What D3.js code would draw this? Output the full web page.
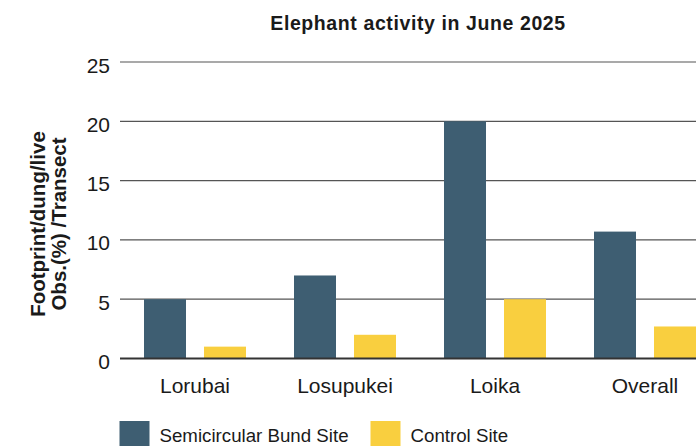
<!DOCTYPE html>
<html>
<head>
<meta charset="utf-8">
<script src="https://cdn.jsdelivr.net/npm/d3@7"></script>
<style>
  html, body { margin: 0; padding: 0; background: #fff; }
  svg { display: block; overflow: hidden; }
  text { font-family: "Liberation Sans", Arial, Helvetica, sans-serif; fill: #1a1a1a; }
</style>
</head>
<body>
<div id="chart"></div>
<script>
const categories = ["Lorubai", "Losupukei", "Loika", "Overall"];
const seriesNames = ["Semicircular Bund Site", "Control Site"];
const bundValues = [5, 7, 20, 10.7];
const controlValues = [1, 2, 5, 2.7];
const yTicks = [0, 5, 10, 15, 20, 25];
const colors = ["#3e5e72", "#f9cf3f"];
const title = "Elephant activity in June 2025";
const yTitleLines = ["Footprint/dung/live", "Obs.(%) /Transect"];

const W = 696, H = 446;
const svg = d3.select("#chart").append("svg").attr("width", W).attr("height", H);

const x0 = d3.scaleBand().domain(categories).range([120, 720]).paddingInner(0).paddingOuter(0);
const x1 = d3.scaleBand().domain(seriesNames).range([24, 126]).paddingInner(0.3).paddingOuter(0);
const y = d3.scaleLinear().domain([0, 25]).range([358.5, 62]);

// grid lines
svg.append("g").selectAll("line").data(yTicks.filter(d => d > 0)).join("line")
  .attr("x1", 120).attr("x2", W + 10)
  .attr("y1", d => y(d)).attr("y2", d => y(d))
  .attr("stroke", "#555").attr("stroke-width", 1.2);

// tick labels
svg.append("g").selectAll("text").data(yTicks).join("text")
  .attr("x", 110).attr("y", d => y(d) + 10.5)
  .attr("text-anchor", "end").attr("font-size", 21)
  .text(d => d);

// bars
const rows = categories.map((c, i) => ({ cat: c, vals: [bundValues[i], controlValues[i]] }));
const groups = svg.append("g").selectAll("g").data(rows).join("g")
  .attr("transform", d => `translate(${x0(d.cat)},0)`);
groups.selectAll("rect").data(d => d.vals.map((v, j) => ({ key: seriesNames[j], v, j }))).join("rect")
  .attr("x", d => x1(d.key)).attr("width", x1.bandwidth())
  .attr("y", d => y(d.v)).attr("height", d => y(0) - y(d.v))
  .attr("fill", d => colors[d.j]);

// baseline
svg.append("line").attr("x1", 120).attr("x2", W + 10)
  .attr("y1", y(0)).attr("y2", y(0))
  .attr("stroke", "#333").attr("stroke-width", 2);

// x labels
svg.append("g").selectAll("text").data(categories).join("text")
  .attr("x", d => x0(d) + x0.bandwidth() / 2).attr("y", 393)
  .attr("text-anchor", "middle").attr("font-size", 21)
  .text(d => d);

// title
svg.append("text").attr("x", 418).attr("y", 30)
  .attr("text-anchor", "middle").attr("font-size", 19.5).attr("font-weight", "bold")
  .attr("letter-spacing", 0.6)
  .text(title);

// y title
const yt = svg.append("text").attr("transform", "translate(45,224) rotate(-90)")
  .attr("text-anchor", "middle").attr("font-size", 20.5).attr("font-weight", "bold");
yTitleLines.forEach((t, i) => {
  yt.append("tspan").attr("x", 0).attr("y", i * 21).text(t);
});

// legend
const legendX = [119.5, 370.5];
const lg = svg.append("g").selectAll("g").data(seriesNames).join("g")
  .attr("transform", (d, i) => `translate(${legendX[i]},421)`);
lg.append("rect").attr("width", 30).attr("height", 30).attr("fill", (d, i) => colors[i]);
lg.append("text").attr("x", 40).attr("y", 20.5).attr("font-size", 18.7).text(d => d);
</script>
</body>
</html>
